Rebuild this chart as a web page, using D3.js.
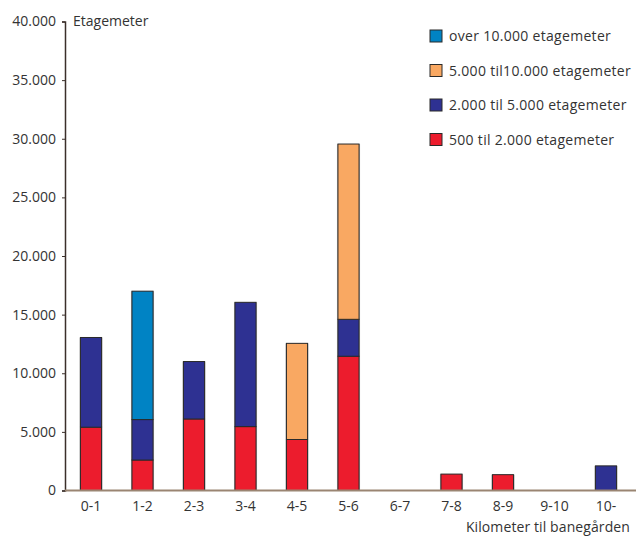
<!DOCTYPE html>
<html>
<head>
<meta charset="utf-8">
<script src="https://cdn.jsdelivr.net/npm/d3@7"></script>
<style>
  body { margin: 0; background: #fff; }
  svg text { font-family: "Open Sans", "Noto Sans", sans-serif; fill: #333; }
</style>
</head>
<body>
<svg id="chart" width="636" height="537"></svg>
<script>
// Distance bands (km to the railway yard)
const categories = ["0-1", "1-2", "2-3", "3-4", "4-5", "5-6", "6-7", "7-8", "8-9", "9-10", "10-"];

// Floor area (etagemeter) per size class, stacked from bottom to top
const small  = [5400, 2600, 6100, 5450, 4350, 11450, 0, 1400, 1350, 0, 0];     // 500 til 2.000
const medium = [7650, 3450, 4900, 10600, 0, 3150, 0, 0, 0, 0, 2100];           // 2.000 til 5.000
const large  = [0, 0, 0, 0, 8200, 14950, 0, 0, 0, 0, 0];                        // 5.000 til 10.000
const xlarge = [0, 10950, 0, 0, 0, 0, 0, 0, 0, 0, 0];                           // over 10.000

const seriesNames = ["500 til 2.000 etagemeter", "2.000 til 5.000 etagemeter",
                     "5.000 til10.000 etagemeter", "over 10.000 etagemeter"];
const seriesColors = ["#ec1c2d", "#2e3192", "#f9a862", "#0083c4"];
const yTicks = [0, 5000, 10000, 15000, 20000, 25000, 30000, 35000, 40000];

const svg = d3.select("#chart");
const x0 = 65, x1 = 632, yBottom = 490.5, yTop = 21.5;

const x = d3.scaleBand().domain(categories).range([x0, x1]).paddingInner(0.59).paddingOuter(0.3);
const y = d3.scaleLinear().domain([0, 40000]).range([yBottom, yTop]);

const rows = categories.map((c, i) => ({ cat: c, s0: small[i], s1: medium[i], s2: large[i], s3: xlarge[i] }));
const stack = d3.stack().keys(["s0", "s1", "s2", "s3"]);
const layers = stack(rows);

// Bars
const g = svg.append("g");
layers.forEach((layer, li) => {
  const segs = layer.filter(d => d[1] - d[0] > 0);
  // soft grey edge behind each bar segment
  g.selectAll(null).data(segs).enter().append("rect")
    .attr("x", d => x(d.data.cat) - 1)
    .attr("y", d => y(d[1]))
    .attr("width", x.bandwidth() + 2)
    .attr("height", d => y(d[0]) - y(d[1]))
    .attr("fill", "#bdbdbd");
});
layers.forEach((layer, li) => {
  const segs = layer.filter(d => d[1] - d[0] > 0);
  g.selectAll(null).data(segs).enter().append("rect")
    .attr("x", d => x(d.data.cat))
    .attr("y", d => y(d[1]))
    .attr("width", x.bandwidth())
    .attr("height", d => y(d[0]) - y(d[1]))
    .attr("fill", seriesColors[li])
    .attr("stroke", "#2a2a2a")
    .attr("stroke-width", 1);
});

// Y axis
const yAxis = d3.axisLeft(y).tickValues(yTicks).tickSize(3).tickPadding(6)
  .tickFormat(d => d === 0 ? "0" : d3.format(",")(d).replace(/,/g, "."));
const ya = svg.append("g").attr("transform", `translate(${x0},0)`).call(yAxis);
ya.select(".domain").attr("stroke", "#3b2f2a").attr("stroke-width", 1.5);
ya.selectAll(".tick line").attr("stroke", "#3b2f2a");
ya.selectAll(".tick text").attr("font-size", 14).attr("fill", "#3a3a3a")
  .style("font-family", '"Open Sans", "Noto Sans", sans-serif');

// X axis
const xAxis = d3.axisBottom(x).tickSize(0).tickPadding(11);
const xa = svg.append("g").attr("transform", `translate(0,${yBottom})`).call(xAxis);
xa.select(".domain").attr("d", `M${x0},0H636`).attr("stroke", "#9a8572").attr("stroke-width", 1.8);
xa.selectAll(".tick text").attr("font-size", 14).attr("fill", "#3a3a3a")
  .style("font-family", '"Open Sans", "Noto Sans", sans-serif');

// Axis titles
svg.append("text").attr("x", 73).attr("y", 26).attr("font-size", 14).text("Etagemeter");
svg.append("text").attr("x", 630).attr("y", 532).attr("text-anchor", "end").attr("font-size", 14)
  .attr("letter-spacing", 0.1).text("Kilometer til banegården");

// Legend (top entry is the top of the stack)
const legendOrder = [3, 2, 1, 0];
const lg = svg.append("g");
legendOrder.forEach((si, k) => {
  const yy = 36 + k * 34.5;
  lg.append("rect").attr("x", 430).attr("y", yy - 6).attr("width", 12).attr("height", 12)
    .attr("fill", seriesColors[si]).attr("stroke", "#2a2a2a").attr("stroke-width", 1);
  lg.append("text").attr("x", 449).attr("y", yy + 5).attr("font-size", 14)
    .attr("letter-spacing", 0.3).text(seriesNames[si]);
});
</script>
</body>
</html>
